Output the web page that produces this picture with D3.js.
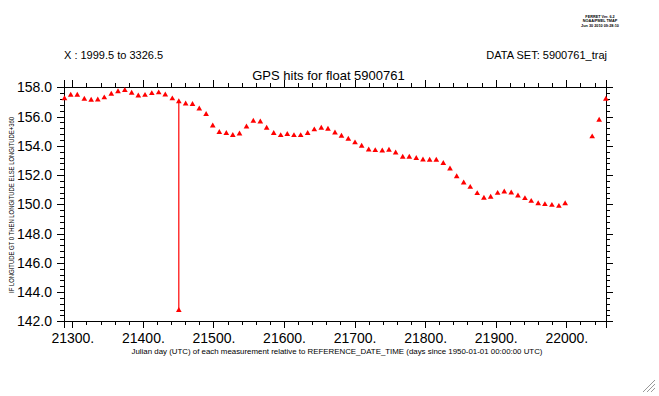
<!DOCTYPE html>
<html lang="en">
<head>
<meta charset="UTF-8">
<title>GPS hits for float 5900761</title>
<style>
  body { margin: 0; background: #fff; }
  svg { display: block; font-family: "Liberation Sans", "DejaVu Sans", sans-serif; }
  .axis path, .axis line { stroke: #000; stroke-width: 1; shape-rendering: crispEdges; }
  .axis text { fill: #000; }
</style>
</head>
<body>
<div id="chart"></div>
<script src="https://cdnjs.cloudflare.com/ajax/libs/d3/7.8.5/d3.min.js"></script>
<script>

// julian day (days since 1950-01-01) of each GPS hit
const days = [
  21288.9, 21297.7, 21307.0, 21317.0, 21326.7, 21336.1, 21345.3, 21355.2, 21364.7, 21374.4,
  21384.1, 21393.5, 21403.0, 21412.6, 21422.4, 21431.7, 21441.7, 21450.9, 21460.6, 21470.3,
  21479.9, 21489.6, 21499.0, 21508.3, 21518.2, 21527.4, 21536.9, 21546.8, 21556.5, 21566.4,
  21575.4, 21585.4, 21595.3, 21604.6, 21614.1, 21623.6, 21633.5, 21642.9, 21652.8, 21662.3,
  21672.2, 21681.4, 21691.1, 21700.6, 21710.0, 21720.0, 21729.3, 21739.2, 21748.7, 21758.2,
  21768.2, 21777.5, 21787.4, 21796.9, 21806.4, 21815.8, 21825.7, 21835.2, 21844.7, 21854.6,
  21863.9, 21873.8, 21883.3, 21892.8, 21902.7, 21912.1, 21922.0, 21931.5, 21941.4, 21950.3,
  21960.2, 21969.7, 21979.6, 21989.5, 21998.4, 22036.7, 22046.6, 22056.1
];

// longitude (east, 0-360) of each hit
const lons = [
  157.23, 157.47, 157.47, 157.20, 157.13, 157.14, 157.29, 157.54, 157.71, 157.79,
  157.61, 157.42, 157.46, 157.58, 157.63, 157.49, 157.22, 157.03, 156.87, 156.84,
  156.53, 156.15, 155.37, 154.92, 154.85, 154.72, 154.82, 155.30, 155.69, 155.64,
  155.21, 154.85, 154.71, 154.78, 154.71, 154.71, 154.85, 155.10, 155.21, 155.14,
  154.89, 154.66, 154.46, 154.21, 153.98, 153.73, 153.68, 153.66, 153.71, 153.52,
  153.23, 153.23, 153.14, 153.04, 153.02, 153.02, 152.80, 152.42, 151.90, 151.47,
  151.17, 150.74, 150.42, 150.49, 150.76, 150.85, 150.78, 150.58, 150.40, 150.21,
  150.05, 149.99, 149.94, 149.87, 150.05, 154.62, 155.76, 157.20
];

// the bad fix joined to its neighbour
const spikeDay = [21450.9, 21450.9];
const spikeLon = [157.03, 142.75];

const xDomain = [21288.2, 22056.7];
const yDomain = [142, 158];
const xMajor = [21300, 21400, 21500, 21600, 21700, 21800, 21900, 22000];
const yMajor = [142, 144, 146, 148, 150, 152, 154, 156, 158];

const ferretLines = ['FERRET Ver. 6.2', 'NOAA/PMEL TMAP', 'Jun 30 2010 09:28:10'];

const W = 659, H = 396;
const margin = { top: 87.3, right: 52.7, bottom: 74.7, left: 64 };
const width = W - margin.left - margin.right,
      height = H - margin.top - margin.bottom;

const svg = d3.select('#chart').append('svg')
  .attr('width', W).attr('height', H);

const g = svg.append('g')
  .attr('transform', `translate(${margin.left},${margin.top})`);

const x = d3.scaleLinear().domain(xDomain).range([0, width]);
const y = d3.scaleLinear().domain(yDomain).range([height, 0]);

const xMinor = d3.range(21300, 22060, 20).filter(d => d <= xDomain[1]);
const yMinor = d3.range(0, 41).map(i => 142 + i * 0.4);

// minor ticks on all four sides
g.append('g').attr('class', 'axis').attr('transform', `translate(0,${height})`)
  .call(d3.axisBottom(x).tickValues(xMinor).tickSize(4).tickFormat(''));
g.append('g').attr('class', 'axis')
  .call(d3.axisTop(x).tickValues(xMinor).tickSize(4).tickFormat(''));
g.append('g').attr('class', 'axis')
  .call(d3.axisLeft(y).tickValues(yMinor).tickSize(4).tickFormat(''));
g.append('g').attr('class', 'axis').attr('transform', `translate(${width},0)`)
  .call(d3.axisRight(y).tickValues(yMinor).tickSize(4).tickFormat(''));

// major ticks
g.append('g').attr('class', 'axis').attr('transform', `translate(0,${height})`)
  .call(d3.axisBottom(x).tickValues(xMajor).tickSize(7).tickPadding(5)
    .tickFormat(d => d + '.'))
  .selectAll('text').style('font-size', '14px');
g.append('g').attr('class', 'axis')
  .call(d3.axisTop(x).tickValues(xMajor).tickSize(7).tickFormat(''));
g.append('g').attr('class', 'axis')
  .call(d3.axisLeft(y).tickValues(yMajor).tickSize(7).tickPadding(5)
    .tickFormat(d3.format('.1f')))
  .selectAll('text').style('font-size', '14px');
g.append('g').attr('class', 'axis').attr('transform', `translate(${width},0)`)
  .call(d3.axisRight(y).tickValues(yMajor).tickSize(7).tickFormat(''));

// data
g.append('path')
  .datum(d3.zip(spikeDay, spikeLon))
  .attr('fill', 'none')
  .attr('stroke', '#ff0000')
  .attr('stroke-width', 1.2)
  .attr('d', d3.line().x(d => x(d[0])).y(d => y(d[1])));

const pts = d3.zip(days, lons).concat([[spikeDay[1], spikeLon[1]]]);
g.selectAll('.pt')
  .data(pts)
  .join('path')
  .attr('class', 'pt')
  .attr('transform', d => `translate(${x(d[0])},${y(d[1])})`)
  .attr('d', d3.symbol(d3.symbolTriangle, 14))
  .attr('fill', '#ff0000');

// texts
svg.append('text')
  .attr('x', W / 2 - 1).attr('y', 80)
  .attr('text-anchor', 'middle')
  .style('font-size', '13px')
  .text('GPS hits for float 5900761');

svg.append('text')
  .attr('x', 64).attr('y', 59)
  .style('font-size', '11px')
  .text('X : 1999.5 to 3326.5');

svg.append('text')
  .attr('x', 607).attr('y', 59)
  .attr('text-anchor', 'end')
  .style('font-size', '11px')
  .text('DATA SET: 5900761_traj');

svg.append('text')
  .attr('x', 337).attr('y', 354)
  .attr('text-anchor', 'middle')
  .attr('textLength', 411).attr('lengthAdjust', 'spacingAndGlyphs')
  .style('font-size', '7.5px')
  .text('Julian day (UTC) of each measurement relative to REFERENCE_DATE_TIME (days since 1950-01-01 00:00:00 UTC)');

svg.append('text')
  .attr('transform', 'translate(14,205) rotate(-90)')
  .attr('text-anchor', 'middle')
  .attr('textLength', 176).attr('lengthAdjust', 'spacingAndGlyphs')
  .style('font-size', '7px')
  .text('IF LONGITUDE GT 0 THEN LONGITUDE ELSE LONGITUDE+360');

svg.append('g').selectAll('text')
  .data(ferretLines)
  .join('text')
  .attr('x', 600).attr('y', (d, i) => 17.5 + i * 4.5)
  .attr('text-anchor', 'middle')
  .style('font-size', '3.8px')
  .style('font-weight', 'bold')
  .text(d => d);

// window resize grip
svg.append('g').selectAll('line')
  .data([0, 4, 8])
  .join('line')
  .attr('x1', d => 655 - (12 - d)).attr('y1', 392)
  .attr('x2', 655).attr('y2', d => 392 - (12 - d))
  .attr('stroke', '#999');

</script>
</body>
</html>
